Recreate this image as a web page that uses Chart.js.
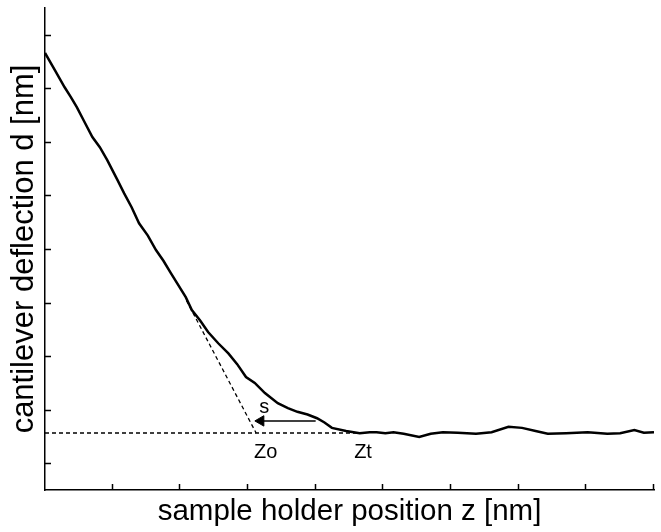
<!DOCTYPE html>
<html lang="en">
<head>
    <meta charset="UTF-8">
    <title>Cantilever deflection</title>
    <script src="https://cdn.jsdelivr.net/npm/chart.js@4/dist/chart.umd.min.js"></script>
    <style>
        body { margin: 0; background: #fff; }
    </style>
</head>
<body>
<canvas id="canvas" width="661" height="532"></canvas>
<script>
    // sample holder position z (arbitrary units, axis 0..9)
    var zPos = [0, 0.15, 0.29, 0.38, 0.47, 0.58, 0.70, 0.81, 0.92, 1.07, 1.17, 1.28, 1.39, 1.52, 1.64,
        1.75, 1.86, 2.08, 2.17, 2.29, 2.41, 2.56, 2.71, 2.84, 2.97, 3.10, 3.25, 3.44, 3.59, 3.73,
        3.88, 4.02, 4.13, 4.24, 4.45, 4.65, 4.80, 4.90, 5.03, 5.15, 5.30, 5.53, 5.70, 5.88, 6.10,
        6.37, 6.60, 6.85, 7.05, 7.25, 7.43, 7.70, 8.02, 8.31, 8.50, 8.71, 8.85, 9.0];
    // cantilever deflection d
    var deflection = [7.66, 7.33, 7.02, 6.84, 6.65, 6.38, 6.09, 5.90, 5.66, 5.29, 5.04, 4.78, 4.48, 4.25, 3.98,
        3.78, 3.55, 3.10, 2.86, 2.67, 2.45, 2.24, 2.05, 1.85, 1.61, 1.50, 1.31, 1.12, 1.03, 0.96,
        0.91, 0.84, 0.76, 0.66, 0.60, 0.56, 0.58, 0.58, 0.56, 0.58, 0.55, 0.49, 0.55, 0.58, 0.57,
        0.55, 0.58, 0.68, 0.66, 0.60, 0.55, 0.56, 0.58, 0.55, 0.56, 0.62, 0.57, 0.58];

    var baselineD = 0.564;       // free cantilever level
    var z0 = 3.12;               // extrapolated contact point
    var zt = 4.65;               // true contact point
    var tangentStart = [2.09, 3.04];
    var arrowD = 0.79;
    var arrowFrom = 4.0;

    var yTicks = [0, 1, 2, 3, 4, 5, 6, 7, 8];
    var xTicks = [1, 2, 3, 4, 5, 6, 7, 8, 9];

    var notes = [
        {text: 's', x: 3.24, y: 1.05, size: 20},
        {text: 'Zo', x: 3.26, y: 0.2, size: 20},
        {text: 'Zt', x: 4.7, y: 0.2, size: 20}
    ];

    var curve = zPos.map(function(z, i) { return {x: z, y: deflection[i]}; });

    var FONT = 'Arial, "Liberation Sans", sans-serif';

    // ticks drawn inward, plus annotation texts
    var inwardTicks = {
        id: 'inwardTicks',
        afterDraw: function(chart) {
            var ctx = chart.ctx;
            var xs = chart.scales.x, ys = chart.scales.y;
            var area = chart.chartArea;
            ctx.save();
            ctx.strokeStyle = '#000';
            ctx.lineWidth = 1.5;
            ctx.beginPath();
            yTicks.forEach(function(v) {
                var p = Math.round(ys.getPixelForValue(v)) + 0.5;
                ctx.moveTo(area.left, p);
                ctx.lineTo(area.left + 6, p);
            });
            xTicks.forEach(function(v) {
                var p = Math.round(xs.getPixelForValue(v)) - 0.5;
                ctx.moveTo(p, area.bottom);
                ctx.lineTo(p, area.bottom - 6);
            });
            ctx.stroke();

            ctx.fillStyle = '#000';
            ctx.textAlign = 'center';
            ctx.textBaseline = 'middle';
            notes.forEach(function(n) {
                ctx.font = n.size + 'px ' + FONT;
                ctx.fillText(n.text, xs.getPixelForValue(n.x), ys.getPixelForValue(n.y));
            });
            ctx.restore();
        }
    };

    window.onload = function() {
        var ctx = document.getElementById('canvas').getContext('2d');
        window.myChart = new Chart(ctx, {
            type: 'scatter',
            data: {
                datasets: [{
                    data: [{x: 0, y: baselineD}, {x: zt, y: baselineD}],
                    showLine: true,
                    borderColor: '#000',
                    borderWidth: 1.3,
                    borderDash: [4, 3],
                    pointRadius: 0
                }, {
                    data: [{x: tangentStart[0], y: tangentStart[1]}, {x: z0, y: baselineD}],
                    showLine: true,
                    borderColor: '#000',
                    borderWidth: 1.3,
                    borderDash: [4, 3],
                    pointRadius: 0
                }, {
                    data: [{x: arrowFrom, y: arrowD}, {x: z0 + 0.05, y: arrowD}],
                    showLine: true,
                    borderColor: '#000',
                    borderWidth: 1.5,
                    pointRadius: 0
                }, {
                    data: [{x: z0 + 0.07, y: arrowD}],
                    pointStyle: 'triangle',
                    rotation: -90,
                    pointRadius: 6,
                    backgroundColor: '#000',
                    borderColor: '#000',
                    borderWidth: 1
                }, {
                    data: curve,
                    showLine: true,
                    borderColor: '#000',
                    borderWidth: 2.5,
                    pointRadius: 0,
                    tension: 0
                }]
            },
            options: {
                responsive: false,
                animation: false,
                layout: {padding: {top: 8, right: 1, left: 0, bottom: 0}},
                plugins: {
                    legend: {display: false},
                    tooltip: {enabled: false}
                },
                scales: {
                    x: {
                        type: 'linear',
                        min: 0,
                        max: 9,
                        grid: {display: false, drawTicks: false},
                        ticks: {display: false},
                        border: {display: true, color: '#000', width: 1.5},
                        title: {
                            display: true,
                            text: 'sample holder position z [nm]',
                            color: '#000',
                            font: {family: FONT, size: 29.5},
                            padding: {top: 4, bottom: 2.6}
                        }
                    },
                    y: {
                        type: 'linear',
                        min: -0.5,
                        max: 8.5,
                        grid: {display: false, drawTicks: false},
                        ticks: {display: false},
                        border: {display: true, color: '#000', width: 1.5},
                        title: {
                            display: true,
                            text: 'cantilever deflection d [nm]',
                            color: '#000',
                            font: {family: FONT, size: 31},
                            padding: {top: 5.4, bottom: 2.4}
                        }
                    }
                }
            },
            plugins: [inwardTicks]
        });
    };
</script>
</body>
</html>
